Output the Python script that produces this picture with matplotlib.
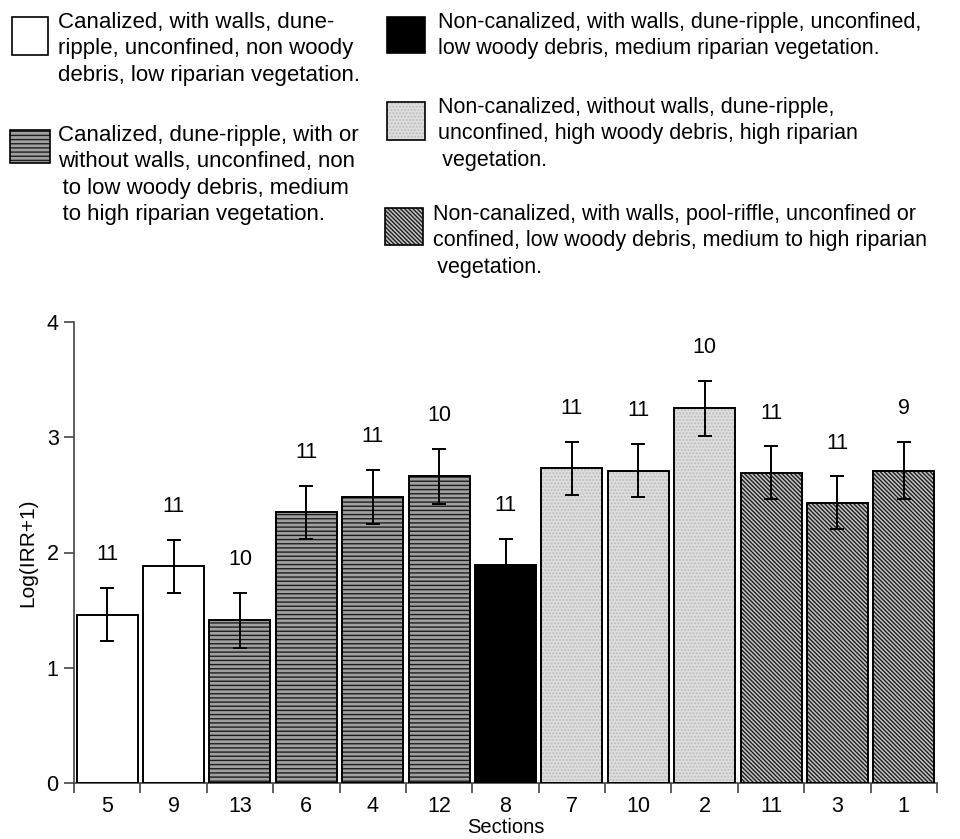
import matplotlib.pyplot as plt
from matplotlib.patches import Rectangle
import numpy as np

plt.rcParams['font.family'] = ['Liberation Sans', 'DejaVu Sans']
plt.rcParams['hatch.linewidth'] = 1.0

sections = ['5', '9', '13', '6', '4', '12', '8', '7', '10', '2', '11', '3', '1']
means = [1.46, 1.88, 1.41, 2.35, 2.48, 2.66, 1.89, 2.73, 2.71, 3.25, 2.69, 2.43, 2.71]
errs = [0.23, 0.23, 0.24, 0.23, 0.235, 0.24, 0.23, 0.23, 0.23, 0.24, 0.23, 0.23, 0.25]
n_obs = [11, 11, 10, 11, 11, 10, 11, 11, 11, 10, 11, 11, 9]
# group of each section (index into the legend styles)
groups = [0, 0, 1, 1, 1, 1, 2, 3, 3, 3, 4, 4, 4]

legend_texts = [
    "Canalized, with walls, dune-\nripple, unconfined, non woody\ndebris, low riparian vegetation.",
    "Canalized, dune-ripple, with or\nwithout walls, unconfined, non\n\u2009to low woody debris, medium\n\u2009to high riparian vegetation.",
    "Non-canalized, with walls, dune-ripple, unconfined,\nlow woody debris, medium riparian vegetation.",
    "Non-canalized, without walls, dune-ripple,\nunconfined, high woody debris, high riparian\n\u2009vegetation.",
    "Non-canalized, with walls, pool-riffle, unconfined or\nconfined, low woody debris, medium to high riparian\n\u2009vegetation.",
]

# fill styles: facecolor, hatch, hatch colour
styles = [
    ('white', None, 'black'),
    ('#a0a0a0', '----', '#1e1e1e'),
    ('black', None, 'black'),
    ('#dedede', '.....', '#bdbdbd'),
    ('#c4c4c4', '\\' * 8, '#1e1e1e'),
]

FS = 15.5
W, H = 960, 839
fig = plt.figure(figsize=(W / 100, H / 100), dpi=100)
ax = fig.add_axes([74 / W, 1 - 783 / H, 863 / W, 461 / H])

x = np.arange(len(sections))
for i in x:
    fc, hatch, hc = styles[groups[i]]
    ax.bar(i, means[i], width=0.92, facecolor=fc, edgecolor=hc,
           linewidth=0, hatch=hatch, zorder=2)
    ax.bar(i, means[i], width=0.92, facecolor='none', edgecolor='black',
           linewidth=1.4, zorder=3)

ax.errorbar(x, means, yerr=errs, fmt='none', ecolor='black', elinewidth=1.4,
            capsize=5, capthick=1.4, zorder=4)

for i in x:
    ax.text(i, means[i] + errs[i] + 0.29, str(n_obs[i]), ha='center',
            va='center', fontsize=FS)

ax.set_xlim(-0.5, len(sections) - 0.5)
ax.set_ylim(0, 4)
ax.set_yticks([0, 1, 2, 3, 4])
ax.set_xticks(x)
ax.set_xticklabels(sections, fontsize=FS)
ax.set_xticks(np.arange(len(sections) + 1) - 0.5, minor=True)
ax.tick_params(axis='x', which='major', length=0, pad=9)
ax.tick_params(axis='x', which='minor', length=7, width=1.2, color='#444444')
ax.tick_params(axis='y', labelsize=FS, length=7, width=1.2, color='#444444', pad=4)
for s in ['top', 'right']:
    ax.spines[s].set_visible(False)
for s in ['left', 'bottom']:
    ax.spines[s].set_color('#444444')
    ax.spines[s].set_linewidth(1.2)
ax.set_ylabel('Log(IRR+1)', fontsize=15, labelpad=7)
ax.set_xlabel('Sections', fontsize=14.5, labelpad=1)

# legend drawn by hand in pixel positions
boxes = [(12, 17, 36, 38), (10, 130, 40, 33), (387, 17, 38, 36),
         (387, 102, 38, 38), (385, 208, 38, 37)]
text_pos = [(58, 12), (58, 125), (438, 12), (438, 97), (433, 204)]
text_fs = [16, 16, 15.5, 15.5, 15.5]
text_ls = [1.34, 1.34, 1.34, 1.34, 1.34]
for k in range(5):
    bx, by, bw, bh = boxes[k]
    fc, hatch, hc = styles[k]
    fig.patches.append(Rectangle((bx / W, 1 - (by + bh) / H), bw / W, bh / H,
                                 transform=fig.transFigure, facecolor=fc,
                                 edgecolor=hc, hatch=hatch, linewidth=0))
    fig.patches.append(Rectangle((bx / W, 1 - (by + bh) / H), bw / W, bh / H,
                                 transform=fig.transFigure, facecolor='none',
                                 edgecolor='black', linewidth=1.2))
    tx, ty = text_pos[k]
    fig.text(tx / W, 1 - ty / H, legend_texts[k], ha='left', va='top',
             fontsize=text_fs[k], linespacing=text_ls[k])

fig.savefig('out.png', dpi=100)
